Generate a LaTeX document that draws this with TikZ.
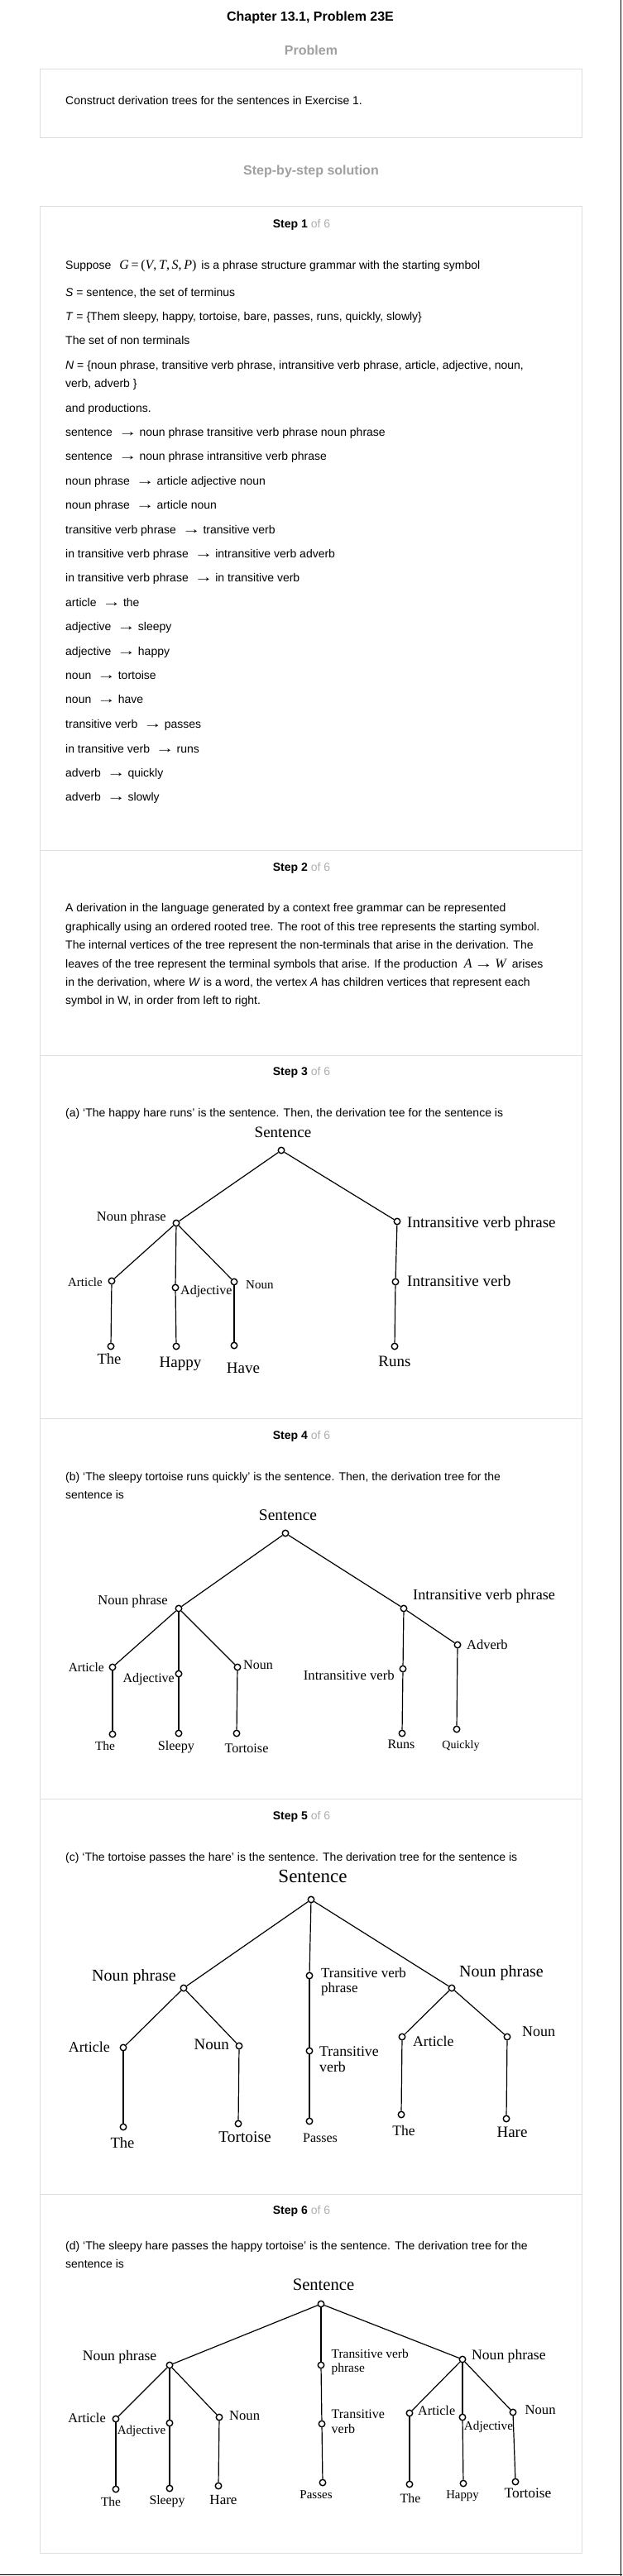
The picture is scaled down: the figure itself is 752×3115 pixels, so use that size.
\documentclass[tikz,border=0pt]{standalone}
\usepackage{fontspec}
\setmainfont{Liberation Sans}
\newfontfamily\treefont{Liberation Serif}
\usepackage{tikz}
\usetikzlibrary{positioning}
\definecolor{boxgray}{RGB}{221,221,221}
\definecolor{headgray}{RGB}{160,160,160}
\definecolor{ofgray}{RGB}{175,175,175}
\newcommand{\gives}{\hspace{7pt}\scalebox{1.5}[1.1]{\treefont\fontsize{15}{15}\selectfont →}\hspace{3pt}}
\newcommand{\stephead}[1]{\textbf{Step #1} \textcolor{ofgray}{of 6}}
\newcommand{\mathtxt}{\treefont\fontsize{16}{16}\selectfont}

\begin{document}
\begin{tikzpicture}[x=1pt,y=-1pt,
    vtx/.style={
% The shape:
circle, fill=white,
% The size:
minimum size=7.5pt, inner sep=0pt,
% The border:
line width=1.4pt, draw,
},
    link/.style={
% The line:
line width=1.2pt, black,
},
    lbl/.style={
% The font:
font=\treefont\fontsize{#1}{#1}\selectfont,
% The size:
inner sep=0pt, text height=.66em, text depth=0pt,
},
    txt/.style={
% The font:
font=\fontsize{14}{17}\selectfont,
% The size:
inner sep=0pt, text height=.72em, text depth=0pt,
% The place:
anchor=west,
},
    head/.style={
% The font:
font=\bfseries\fontsize{16}{19}\selectfont,
% The size:
inner sep=0pt, text height=.72em, text depth=0pt,
},
    card/.style={
% The border:
draw=boxgray, line width=1pt,
},
]
  \fill[white] (0,0) rectangle (752,3115);
  \useasboundingbox (0,0) rectangle (752,3115);
  \draw[line width=1.5pt] (750.5,0) -- (750.5,3115);
  \draw[line width=1.5pt] (0,3113.5) -- (752,3113.5);

  % heading and problem
  \node[head]                  (title) at (375,22) {Chapter 13.1, Problem 23E};
  \node[head, text=headgray]   (problem) at (376,63) {Problem};
  \draw[card] (48,84) rectangle (703,166);
  \node[txt]                   (task) at (79,123)
    {Construct derivation trees for the sentences in Exercise 1.};
  \node[head, text=headgray]   (solution) at (376,208) {Step-by-step solution};

  % step cards
  \foreach \ya/\yb in {249/1028, 1028/1276, 1276/1715, 1715/2175, 2175/2653, 2653/3087}
    \draw[card] (48,\ya) rectangle (703,\yb);
  \foreach \n/\y in {1/272, 2/1050, 3/1297, 4/1737, 5/2197, 6/2674}
    \node[txt, anchor=center] (step\n) at (364.5,\y) {\stephead{\n}};

  % step 1
  \node[txt] (suppose) at (79,322) {Suppose\hspace{10pt}{\mathtxt\textit{G}\,=\,(\textit{V},\,\textit{T},\,\textit{S},\,\textit{P})}\hspace{6pt}is a phrase structure grammar with the starting symbol};
  \node[txt] (start)    at (79,355) {\textit{S} = sentence, the set of terminus};
  \node[txt] (terms)    at (79,384) {\textit{T} = \{Them sleepy, happy, tortoise, bare, passes, runs, quickly, slowly\}};
  \node[txt] (nonterm)  at (79,413) {The set of non terminals};
  \node[txt] (nset)     at (79,443) {\textit{N} = \{noun phrase, transitive verb phrase, intransitive verb phrase, article, adjective, noun,};
  \node[txt] (nset2)    at (79,465) {verb, adverb \}};
  \node[txt] (prods)    at (79,495) {and productions.};
  \foreach \i/\y/\lhs/\rhs in {
      1/524/sentence/noun phrase transitive verb phrase noun phrase,
      2/553/sentence/noun phrase intransitive verb phrase,
      3/583/noun phrase/article adjective noun,
      4/612/noun phrase/article noun,
      5/642/transitive verb phrase/transitive verb,
      6/671/in transitive verb phrase/intransitive verb adverb,
      7/700/in transitive verb phrase/in transitive verb,
      8/730/article/the,
      9/759/adjective/sleepy,
      10/789/adjective/happy,
      11/818/noun/tortoise,
      12/847/noun/have,
      13/877/transitive verb/passes,
      14/907/in transitive verb/runs,
      15/936/adverb/quickly,
      16/965/adverb/slowly}
    \node[txt] (prod\i) at (79,\y) {\lhs\gives\rhs};

  % step 2
  \node[txt] (para1) at (79,1099) {A derivation in the language generated by a context free grammar can be represented};
  \node[txt] (para2) at (79,1122) {graphically using an ordered rooted tree. The root of this tree represents the starting symbol.};
  \node[txt] (para3) at (79,1144) {The internal vertices of the tree represent the non-terminals that arise in the derivation. The};
  \node[txt] (para4) at (79,1167) {leaves of the tree represent the terminal symbols that arise. If the production\hspace{8pt}{\mathtxt\textit{A}\,\scalebox{1.4}[1]{→}\,\textit{W}}\hspace{6pt}arises};
  \node[txt] (para5) at (79,1189) {in the derivation, where \textit{W} is a word, the vertex \textit{A} has children vertices that represent each};
  \node[txt] (para6) at (79,1211) {symbol in W, in order from left to right.};

  % step 3
  \node[txt] (capa) at (79,1347) {(a) `The happy hare runs' is the sentence. Then, the derivation tee for the sentence is};
  \node[vtx] (aS)     at (340,1391) {};
  \node[vtx] (aNP)    at (213,1479) {};
  \node[vtx] (aIVP)   at (480,1477) {};
  \node[vtx] (aArt)   at (135,1549) {};
  \node[vtx] (aAdj)   at (212,1557) {};
  \node[vtx] (aNoun)  at (283,1550) {};
  \node[vtx] (aIV)    at (478,1550) {};
  \node[vtx] (aThe)   at (134,1628) {};
  \node[vtx] (aHappy) at (213,1628) {};
  \node[vtx] (aHave)  at (283,1627) {};
  \node[vtx] (aRuns)  at (477,1628) {};
  \node[lbl=19]                (aSl)     at (342,1372) {Sentence};
  \node[lbl=16.5, anchor=east] (aNPl)    at (201,1473) {Noun phrase};
  \node[lbl=19, anchor=west]   (aIVPl)   at (492,1481) {Intransitive verb phrase};
  \node[lbl=15, anchor=east]   (aArtl)   at (124,1552) {Article};
  \node[lbl=16, anchor=west]   (aAdjl)   at (218,1562) {Adjective};
  \node[lbl=15, anchor=west]   (aNounl)  at (297,1555) {Noun};
  \node[lbl=19, anchor=west]   (aIVl)    at (492,1552) {Intransitive verb};
  \node[lbl=18.5]              (aThel)   at (132,1646) {The};
  \node[lbl=19]                (aHappyl) at (218,1650) {Happy};
  \node[lbl=19]                (aHavel)  at (294,1657) {Have};
  \node[lbl=19]                (aRunsl)  at (477,1649) {Runs};
  \foreach \u/\v in {aS/aNP, aS/aIVP, aNP/aArt, aNP/aAdj, aNP/aNoun, aIVP/aIV,
      aArt/aThe, aAdj/aHappy, aNoun/aHave, aIV/aRuns}
    \draw[link] (\u) -- (\v);

  % step 4
  \node[txt] (capb)  at (79,1787) {(b) `The sleepy tortoise runs quickly' is the sentence. Then, the derivation tree for the};
  \node[txt] (capb2) at (79,1809) {sentence is};
  \node[vtx] (bS)      at (345,1854) {};
  \node[vtx] (bNP)     at (216,1945) {};
  \node[vtx] (bIVP)    at (488,1945) {};
  \node[vtx] (bAdv)    at (553,1989) {};
  \node[vtx] (bArt)    at (136,2016) {};
  \node[vtx] (bAdj)    at (216,2024) {};
  \node[vtx] (bNoun)   at (287,2016) {};
  \node[vtx] (bIV)     at (487,2018) {};
  \node[vtx] (bThe)    at (136,2097) {};
  \node[vtx] (bSleepy) at (216,2096) {};
  \node[vtx] (bTort)   at (286,2096) {};
  \node[vtx] (bRuns)   at (486,2096) {};
  \node[vtx] (bQuick)  at (552,2091) {};
  \node[lbl=19.4]              (bSl)      at (348,1835) {Sentence};
  \node[lbl=16.6, anchor=east] (bNPl)     at (203,1937) {Noun phrase};
  \node[lbl=18.2, anchor=west] (bIVPl)    at (499,1931) {Intransitive verb phrase};
  \node[lbl=16.5, anchor=west] (bAdvl)    at (564,1991) {Adverb};
  \node[lbl=15.5, anchor=east] (bArtl)    at (126,2018) {Article};
  \node[lbl=16, anchor=east]   (bAdjl)    at (211,2031) {Adjective};
  \node[lbl=16, anchor=west]   (bNounl)   at (294,2015) {Noun};
  \node[lbl=16.7, anchor=east] (bIVl)     at (477,2028) {Intransitive verb};
  \node[lbl=15.4]              (bThel)    at (127,2113) {The};
  \node[lbl=16.2]              (bSleepyl) at (213,2113) {Sleepy};
  \node[lbl=16.2]              (bTortl)   at (298,2116) {Tortoise};
  \node[lbl=16]                (bRunsl)   at (485,2111) {Runs};
  \node[lbl=14]                (bQuickl)  at (557,2111) {Quickly};
  \foreach \u/\v in {bS/bNP, bS/bIVP, bNP/bArt, bNP/bAdj, bNP/bNoun, bIVP/bIV, bIVP/bAdv,
      bArt/bThe, bAdj/bSleepy, bNoun/bTort, bIV/bRuns, bAdv/bQuick}
    \draw[link] (\u) -- (\v);

  % step 5
  \node[txt] (capc) at (79,2247) {(c) `The tortoise passes the hare' is the sentence. The derivation tree for the sentence is};
  \node[vtx] (cS)     at (376,2297) {};
  \node[vtx] (cNP1)   at (222,2404) {};
  \node[vtx] (cTVP)   at (374,2389) {};
  \node[vtx] (cNP2)   at (546,2404) {};
  \node[vtx] (cArt1)  at (149,2476) {};
  \node[vtx] (cNoun1) at (289,2474) {};
  \node[vtx] (cTV)    at (374,2480) {};
  \node[vtx] (cArt2)  at (486,2463) {};
  \node[vtx] (cNoun2) at (613,2463) {};
  \node[vtx] (cThe1)  at (149,2572) {};
  \node[vtx] (cTort)  at (288,2568) {};
  \node[vtx] (cPass)  at (374,2565) {};
  \node[vtx] (cThe2)  at (485,2557) {};
  \node[vtx] (cHare)  at (612,2562) {};
  \node[lbl=23]                (cSl)     at (378,2273) {Sentence};
  \node[lbl=20, anchor=east]   (cNP1l)   at (213,2392) {Noun phrase};
  \node[lbl=17, anchor=west]   (cTVPl)   at (388,2388) {Transitive verb};
  \node[lbl=17, anchor=west]   (cTVPl2)  at (388,2406) {phrase};
  \node[lbl=20, anchor=west]   (cNP2l)   at (555,2387) {Noun phrase};
  \node[lbl=18, anchor=east]   (cArt1l)  at (133,2478) {Article};
  \node[lbl=19, anchor=east]   (cNoun1l) at (277,2475) {Noun};
  \node[lbl=17.8, anchor=west] (cTVl)    at (386,2483) {Transitive};
  \node[lbl=17.8, anchor=west] (cTVl2)   at (386,2502) {verb};
  \node[lbl=17.7, anchor=west] (cArt2l)  at (499,2471) {Article};
  \node[lbl=18, anchor=west]   (cNoun2l) at (631,2459) {Noun};
  \node[lbl=18.6]              (cThe1l)  at (148,2594) {The};
  \node[lbl=19.4]              (cTortl)  at (296,2587) {Tortoise};
  \node[lbl=16]                (cPassl)  at (387,2587) {Passes};
  \node[lbl=17.6]              (cThe2l)  at (488,2579) {The};
  \node[lbl=19]                (cHarel)  at (619,2581) {Hare};
  \foreach \u/\v in {cS/cNP1, cS/cTVP, cS/cNP2, cNP1/cArt1, cNP1/cNoun1, cTVP/cTV,
      cNP2/cArt2, cNP2/cNoun2, cArt1/cThe1, cNoun1/cTort, cTV/cPass, cArt2/cThe2, cNoun2/cHare}
    \draw[link] (\u) -- (\v);

  % step 6
  \node[txt] (capd)  at (79,2717) {(d) `The sleepy hare passes the happy tortoise' is the sentence. The derivation tree for the};
  \node[txt] (capd2) at (79,2739) {sentence is};
  \node[vtx] (dS)      at (388,2786) {};
  \node[vtx] (dNP1)    at (205,2860) {};
  \node[vtx] (dTVP)    at (388,2860) {};
  \node[vtx] (dNP2)    at (559,2853) {};
  \node[vtx] (dArt1)   at (140,2925) {};
  \node[vtx] (dAdj1)   at (205,2930) {};
  \node[vtx] (dNoun1)  at (265,2923) {};
  \node[vtx] (dTV)     at (389,2931) {};
  \node[vtx] (dArt2)   at (495,2918) {};
  \node[vtx] (dAdj2)   at (559,2923) {};
  \node[vtx] (dNoun2)  at (620,2917) {};
  \node[vtx] (dThe1)   at (140,3010) {};
  \node[vtx] (dSleepy) at (205,3009) {};
  \node[vtx] (dHare)   at (264,3006) {};
  \node[vtx] (dPass)   at (390,3002) {};
  \node[vtx] (dThe2)   at (495,3004) {};
  \node[vtx] (dHappy)  at (560,3003) {};
  \node[vtx] (dTort)   at (623,3001) {};
  \node[lbl=20.6]              (dSl)      at (391,2766) {Sentence};
  \node[lbl=17.6, anchor=east] (dNP1l)    at (189.5,2851) {Noun phrase};
  \node[lbl=15.4, anchor=west] (dTVPl)    at (400.5,2848) {Transitive verb};
  \node[lbl=15.4, anchor=west] (dTVPl2)   at (400.5,2865) {phrase};
  \node[lbl=17.6, anchor=west] (dNP2l)    at (570,2850) {Noun phrase};
  \node[lbl=16.4, anchor=east] (dArt1l)   at (128,2926) {Article};
  \node[lbl=15]                (dAdj1l)   at (171,2940) {Adjective};
  \node[lbl=16.6, anchor=west] (dNoun1l)  at (277,2923) {Noun};
  \node[lbl=16, anchor=west]   (dTVl)     at (400.5,2921) {Transitive};
  \node[lbl=16, anchor=west]   (dTVl2)    at (400.5,2939) {verb};
  \node[lbl=16.2, anchor=west] (dArt2l)   at (505,2917) {Article};
  \node[lbl=15.2]              (dAdj2l)   at (590.5,2935) {Adjective};
  \node[lbl=16.6, anchor=west] (dNoun2l)  at (634.5,2916) {Noun};
  \node[lbl=15.4]              (dThe1l)   at (134,3027) {The};
  \node[lbl=15.8]              (dSleepyl) at (202,3025) {Sleepy};
  \node[lbl=17]                (dHarel)   at (270,3025) {Hare};
  \node[lbl=15]                (dPassl)   at (382,3018) {Passes};
  \node[lbl=15.8]              (dThe2l)   at (496,3023) {The};
  \node[lbl=14.8]              (dHappyl)  at (559,3018) {Happy};
  \node[lbl=17.4]              (dTortl)   at (638,3017) {Tortoise};
  \foreach \u/\v in {dS/dNP1, dS/dTVP, dS/dNP2, dNP1/dArt1, dNP1/dAdj1, dNP1/dNoun1,
      dTVP/dTV, dNP2/dArt2, dNP2/dAdj2, dNP2/dNoun2, dArt1/dThe1, dAdj1/dSleepy,
      dNoun1/dHare, dTV/dPass, dArt2/dThe2, dAdj2/dHappy, dNoun2/dTort}
    \draw[link] (\u) -- (\v);

\end{tikzpicture}
\end{document}
